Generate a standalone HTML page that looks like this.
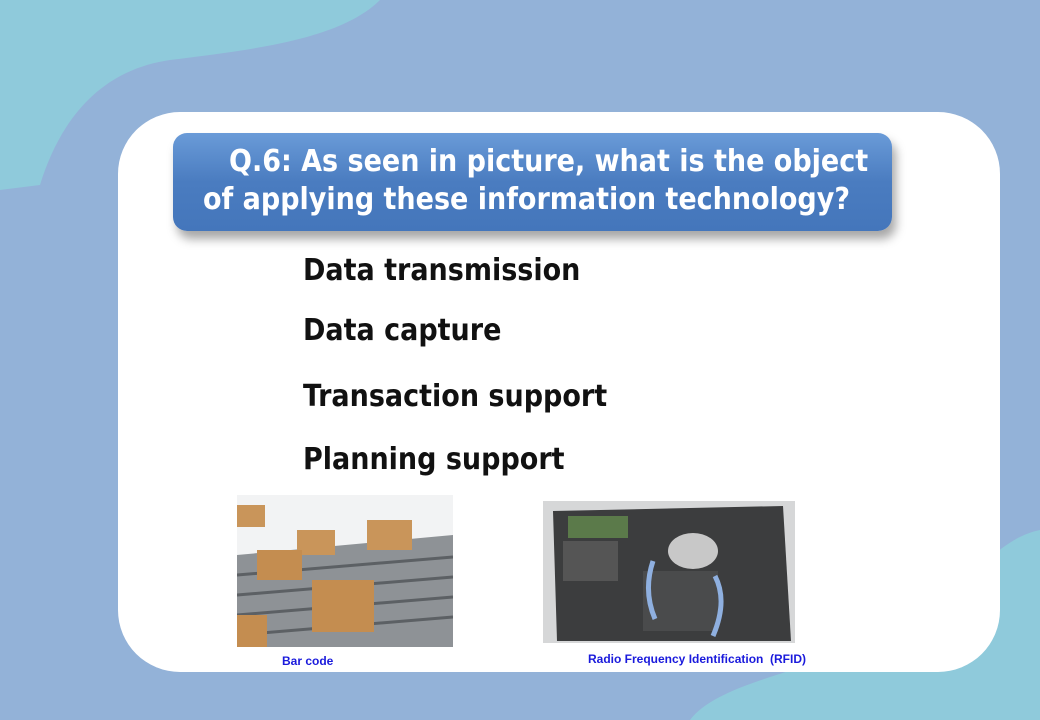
<!DOCTYPE html>
<html><head><meta charset="utf-8"><style>
body{margin:0;width:1040px;height:720px;overflow:hidden;background:#93b2d8;position:relative;font-family:"Liberation Sans","DejaVu Sans",sans-serif}
.abs{position:absolute}
.opt{position:absolute;left:303px;font-weight:bold;font-size:30px;color:#111;font-family:"DejaVu Sans Condensed","Liberation Sans",sans-serif;letter-spacing:0px}
.cap{position:absolute;color:#1a1adc;font-weight:bold;font-size:12px;font-family:"Liberation Sans Narrow","Liberation Sans",sans-serif}
</style></head><body>
<svg class="abs" style="left:0;top:0" width="1040" height="720">
<path d="M0,0 L380,0 C340,40 250,50 170,60 C100,70 60,120 40,185 L0,190 Z" fill="#8fcadb"/>
<path d="M1040,530 C990,540 960,600 900,630 C820,670 720,680 690,720 L1040,720 Z" fill="#8fcadb"/>
</svg>
<div class="abs" style="left:118px;top:112px;width:882px;height:560px;background:#fff;border-radius:62px"></div>
<div class="abs" style="left:173px;top:133px;width:719px;height:98px;border-radius:14px;background:linear-gradient(#6a9bd8,#4a7cc0 50%,#4476bb);box-shadow:4px 8px 10px rgba(0,0,0,0.35);color:#fff;font-weight:bold;font-size:30px;font-family:'DejaVu Sans Condensed','Liberation Sans',sans-serif;line-height:38px">
<div style="position:absolute;left:56px;top:10px;white-space:nowrap">Q.6: As seen in picture, what is the object</div>
<div style="position:absolute;left:30px;top:48px;white-space:nowrap">of applying these information technology?</div>
</div>
<div class="opt" style="top:253px">Data transmission</div>
<div class="opt" style="top:313px">Data capture</div>
<div class="opt" style="top:379px">Transaction support</div>
<div class="opt" style="top:442px">Planning support</div>
<svg class="abs" style="left:237px;top:495px" width="216" height="152">
<rect width="216" height="152" fill="#f2f3f4"/>
<polygon points="0,60 216,40 216,152 0,152" fill="#8e9296"/>
<g stroke="#5c6064" stroke-width="3"><line x1="0" y1="80" x2="216" y2="62"/><line x1="0" y1="100" x2="216" y2="82"/><line x1="0" y1="120" x2="216" y2="102"/><line x1="0" y1="140" x2="216" y2="122"/></g>
<rect x="0" y="10" width="28" height="22" fill="#c9955a"/>
<rect x="60" y="35" width="38" height="25" fill="#c9955a"/>
<rect x="20" y="55" width="45" height="30" fill="#c48d50"/>
<rect x="130" y="25" width="45" height="30" fill="#c9955a"/>
<rect x="75" y="85" width="62" height="52" fill="#c48d50"/>
<rect x="0" y="120" width="30" height="32" fill="#c48d50"/>
</svg>
<svg class="abs" style="left:543px;top:501px" width="252" height="142">
<rect width="252" height="142" fill="#d6d7d8"/>
<polygon points="10,10 240,5 248,140 14,140" fill="#3c3d3e"/>
<rect x="20" y="40" width="55" height="40" fill="#555"/><rect x="100" y="70" width="75" height="60" fill="#4a4b4c"/>
<rect x="25" y="15" width="60" height="22" fill="#5b7a4a"/>
<ellipse cx="150" cy="50" rx="25" ry="18" fill="#c8c8c8"/>
<path d="M110,60 Q100,90 112,118 M172,75 Q185,100 170,135" stroke="#8fb0e0" stroke-width="5" fill="none"/>
</svg>
<div class="cap" style="left:282px;top:654px">Bar code</div>
<div class="cap" style="left:588px;top:652px">Radio Frequency Identification&nbsp; (RFID)</div>
</body></html>
